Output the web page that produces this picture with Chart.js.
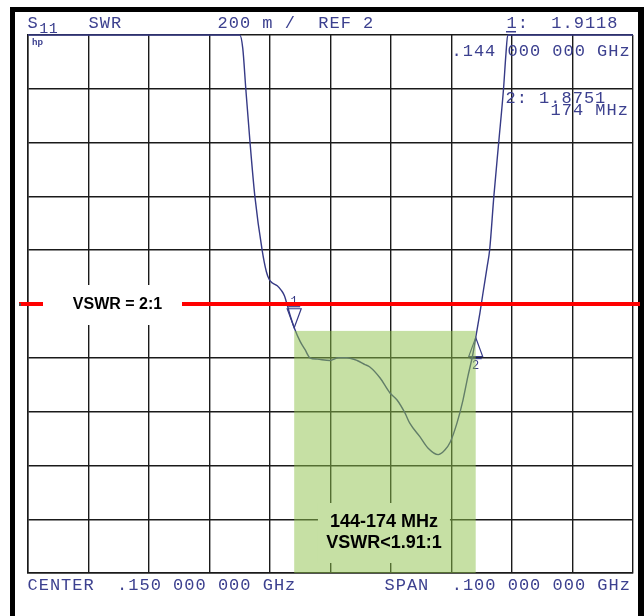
<!DOCTYPE html>
<html><head><meta charset="utf-8">
<script src="https://cdn.jsdelivr.net/npm/chart.js@4"></script>
<style>html,body{margin:0;padding:0;background:#fff;overflow:hidden}#wrap{width:644px;height:616px;position:relative}</style>
</head><body><div id="wrap"><canvas id="c" width="644" height="616"></canvas></div>
<script>
// ---- data ----
const freqMHz = [100, 135.0, 135.5, 136.0, 136.7, 137.5, 138.7, 139.4, 139.9, 140.4, 141.2, 141.9, 142.4, 142.8, 143.5, 144.0, 145.0, 145.8, 146.6, 147.8, 149.9, 151.3, 152.7, 154.4, 155.7, 156.5, 158.2, 159.8, 161.0, 162.3, 163.1, 164.8, 166.1, 167.8, 168.9, 169.8, 170.9, 171.9, 172.7, 173.5, 174.0, 174.7, 175.2, 175.9, 176.3, 177.0, 177.8, 178.6, 179.0, 179.3, 200];
const vswr    = [3.0, 3.0, 2.95, 2.80, 2.60, 2.40, 2.20, 2.12, 2.09, 2.078, 2.068, 2.05, 2.03, 2.00, 1.945, 1.912, 1.86, 1.83, 1.80, 1.795, 1.79, 1.80, 1.80, 1.79, 1.775, 1.766, 1.725, 1.67, 1.643, 1.595, 1.557, 1.506, 1.465, 1.44, 1.457, 1.487, 1.557, 1.643, 1.73, 1.81, 1.875, 1.967, 2.04, 2.14, 2.20, 2.40, 2.60, 2.80, 2.93, 3.0, 3.0];
const markerFreq = [144, 174];
const markerVswr = [1.9118, 1.8751];
const markerNames = ['1', '2'];
const bandFreq = [144, 174];
const bandVswrTop = 1.9;
const refVswr = 2.0;
const refLabel = 'VSWR = 2:1';
const bandLabels = ['144-174 MHz', 'VSWR<1.91:1'];
const xRange = [100, 200, 10];
const yRange = [1, 3, 0.2];
const headerTexts = ['SWR', '200 m /  REF 2', '1:  1.9118', '.144 000 000 GHz', '2: 1.8751', '174 MHz'];
const footerTexts = ['CENTER  .150 000 000 GHz', 'SPAN  .100 000 000 GHz'];

const NAVY = '#363a86';
const TEXTC = '#3c408f';
const PITCH = 11.2;
const MONO = '17px "Liberation Mono"';

function mono(ctx, str, x0, yb, pitch, font) {
  ctx.font = font || MONO;
  ctx.textAlign = 'center';
  ctx.textBaseline = 'alphabetic';
  for (let i = 0; i < str.length; i++) {
    ctx.fillText(str[i], x0 + (i + 0.5) * (pitch || PITCH), yb);
  }
}

const hpPlugin = {
  id: 'hp',
  beforeDraw(chart) {
    const ctx = chart.ctx;
    ctx.save();
    ctx.fillStyle = '#fff';
    ctx.fillRect(0, 0, 644, 616);
    ctx.fillStyle = '#000';
    ctx.fillRect(10, 7, 5, 609);
    ctx.fillRect(10, 7, 634, 5);
    ctx.fillRect(638, 7, 6, 609);
    ctx.restore();
  },
  afterDatasetsDraw(chart) {
    const ctx = chart.ctx;
    const xs = chart.scales.x, ys = chart.scales.y, ca = chart.chartArea;
    ctx.save();
    // markers
    ctx.strokeStyle = NAVY; ctx.fillStyle = NAVY; ctx.lineWidth = 1.2;
    for (let i = 0; i < markerFreq.length; i++) {
      const px = xs.getPixelForValue(markerFreq[i]);
      const py = ys.getPixelForValue(markerVswr[i]);
      const dir = i === 0 ? -1 : 1;
      ctx.beginPath();
      ctx.moveTo(px, py);
      ctx.lineTo(px - 7, py + dir * 19);
      ctx.lineTo(px + 7, py + dir * 19);
      ctx.closePath();
      ctx.stroke();
      ctx.beginPath();
      ctx.moveTo(px - 6, py + dir * 21); ctx.lineTo(px + 6, py + dir * 21);
      ctx.stroke();
      ctx.font = '12px "Liberation Mono"';
      ctx.textAlign = 'center';
      ctx.textBaseline = 'alphabetic';
      ctx.fillText(markerNames[i], px, i === 0 ? py - 23 : py + 31);
    }
    // reference line
    const yRef = ys.getPixelForValue(refVswr);
    ctx.fillStyle = '#ff0000';
    ctx.fillRect(19, yRef - 2, 621, 4);
    ctx.fillStyle = '#555';
    ctx.fillRect(19, yRef - 1, 2, 3);
    ctx.fillStyle = '#fff';
    ctx.fillRect(43, yRef - 19, 139, 40);
    ctx.fillStyle = '#000';
    ctx.font = 'bold 16px "Liberation Sans"';
    ctx.textAlign = 'center';
    ctx.textBaseline = 'middle';
    ctx.fillText(refLabel, 117.5, yRef + 1);
    // band overlay
    const bx0 = xs.getPixelForValue(bandFreq[0]);
    const bx1 = xs.getPixelForValue(bandFreq[1]);
    const by0 = ys.getPixelForValue(bandVswrTop);
    ctx.fillStyle = 'rgba(141,194,74,0.5)';
    ctx.fillRect(bx0, by0, bx1 - bx0, ca.bottom - by0);
    const cx = (bx0 + bx1) / 2 - 1;
    ctx.fillStyle = 'rgb(198,224,164)';
    ctx.fillRect(cx - 66, 503, 132, 60);
    ctx.fillStyle = '#000';
    ctx.font = 'bold 18px "Liberation Sans"';
    ctx.fillText(bandLabels[0], cx, 522);
    ctx.fillText(bandLabels[1], cx, 543);
    // analyzer annotations
    ctx.fillStyle = TEXTC;
    mono(ctx, 'S', 27, 28);
    mono(ctx, '11', 39, 33, 9.5, '15px "Liberation Mono"');
    mono(ctx, headerTexts[0], 88, 28);
    mono(ctx, headerTexts[1], 217, 28);
    mono(ctx, headerTexts[2], 506, 28);
    ctx.fillRect(506, 31, 10, 1.5);
    mono(ctx, headerTexts[3], 451, 56);
    mono(ctx, headerTexts[4], 505, 103);
    mono(ctx, headerTexts[5], 550, 115);
    mono(ctx, footerTexts[0], 27, 590);
    mono(ctx, footerTexts[1], 384, 590);
    ctx.font = 'bold 9px "Liberation Sans"';
    ctx.textAlign = 'left';
    ctx.textBaseline = 'alphabetic';
    ctx.fillText('hp', 32, 45);
    ctx.restore();
  }
};

const pts = freqMHz.map((f, i) => ({ x: f, y: vswr[i] }));
const gridOpts = { color: '#1a1a1a', lineWidth: 1.4, drawTicks: false };
new Chart(document.getElementById('c'), {
  type: 'line',
  data: { datasets: [{
    data: pts, borderColor: NAVY, borderWidth: 1.4, pointRadius: 0,
    cubicInterpolationMode: 'monotone', fill: false, clip: 3
  }] },
  options: {
    responsive: false, animation: false, devicePixelRatio: 1,
    layout: { padding: { left: 28, top: 35, right: 11, bottom: 43 } },
    plugins: { legend: { display: false }, tooltip: { enabled: false }, title: { display: false } },
    scales: {
      x: { type: 'linear', min: xRange[0], max: xRange[1],
           ticks: { display: false, stepSize: xRange[2] }, grid: gridOpts,
           border: { display: true, color: '#1a1a1a', width: 1.5 } },
      y: { type: 'linear', min: yRange[0], max: yRange[1],
           ticks: { display: false, stepSize: yRange[2] }, grid: gridOpts,
           border: { display: true, color: '#1a1a1a', width: 1.5 } }
    }
  },
  plugins: [hpPlugin]
});
</script></body></html>
